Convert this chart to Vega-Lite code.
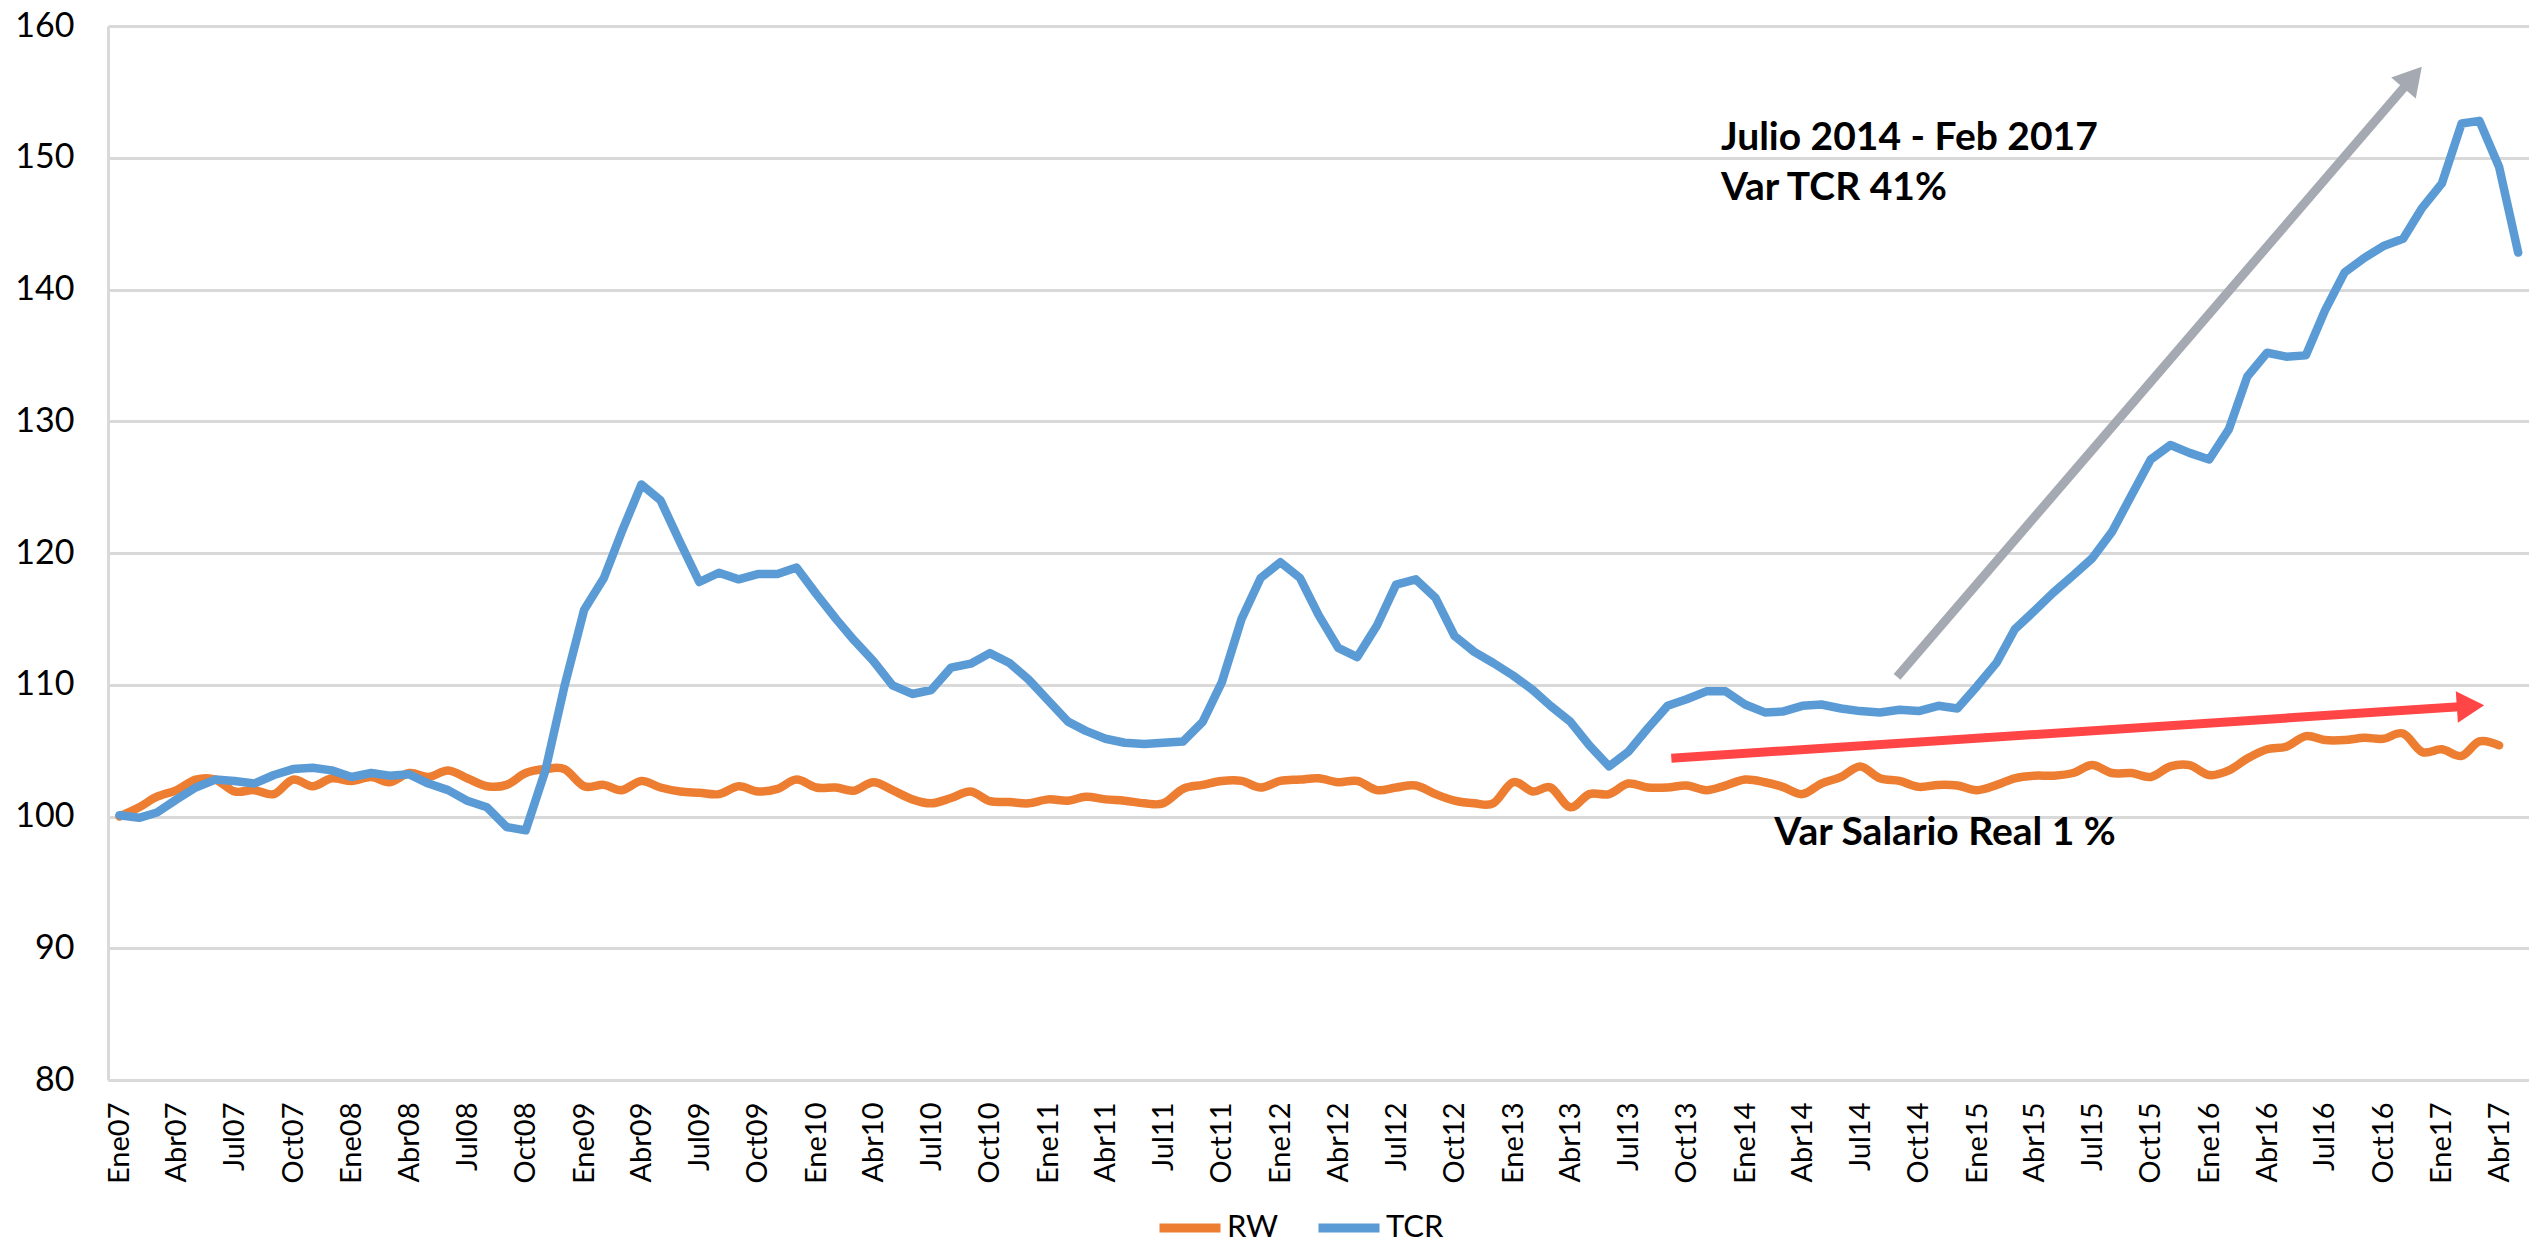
{
  "$schema": "https://vega.github.io/schema/vega-lite/v6.json",
  "width": 2421,
  "height": 1054,
  "autosize": {"type": "none"},
  "padding": {"left": 108, "top": 26, "right": 0, "bottom": 163},
  "background": "#ffffff",
  "config": {"view": {"stroke": null}, "font": "Lato"},
  "datasets": {
    "mensual": [
      {"fecha": "2007-01-01", "RW": 100.0, "TCR": 100.1},
      {"fecha": "2007-02-01", "RW": 100.7, "TCR": 99.9},
      {"fecha": "2007-03-01", "RW": 101.5, "TCR": 100.3},
      {"fecha": "2007-04-01", "RW": 102.0, "TCR": 101.3},
      {"fecha": "2007-05-01", "RW": 102.8, "TCR": 102.2},
      {"fecha": "2007-06-01", "RW": 102.8, "TCR": 102.8},
      {"fecha": "2007-07-01", "RW": 101.9, "TCR": 102.7},
      {"fecha": "2007-08-01", "RW": 102.0, "TCR": 102.5},
      {"fecha": "2007-09-01", "RW": 101.7, "TCR": 103.15},
      {"fecha": "2007-10-01", "RW": 102.8, "TCR": 103.6},
      {"fecha": "2007-11-01", "RW": 102.3, "TCR": 103.7},
      {"fecha": "2007-12-01", "RW": 102.9, "TCR": 103.5},
      {"fecha": "2008-01-01", "RW": 102.7, "TCR": 103.0},
      {"fecha": "2008-02-01", "RW": 103.0, "TCR": 103.3},
      {"fecha": "2008-03-01", "RW": 102.6, "TCR": 103.1},
      {"fecha": "2008-04-01", "RW": 103.3, "TCR": 103.2},
      {"fecha": "2008-05-01", "RW": 103.0, "TCR": 102.5},
      {"fecha": "2008-06-01", "RW": 103.5, "TCR": 102.0},
      {"fecha": "2008-07-01", "RW": 102.9, "TCR": 101.2},
      {"fecha": "2008-08-01", "RW": 102.3, "TCR": 100.7},
      {"fecha": "2008-09-01", "RW": 102.4, "TCR": 99.2},
      {"fecha": "2008-10-01", "RW": 103.3, "TCR": 98.95},
      {"fecha": "2008-11-01", "RW": 103.6, "TCR": 103.5},
      {"fecha": "2008-12-01", "RW": 103.6, "TCR": 109.9},
      {"fecha": "2009-01-01", "RW": 102.3, "TCR": 115.7},
      {"fecha": "2009-02-01", "RW": 102.4, "TCR": 118.1},
      {"fecha": "2009-03-01", "RW": 102.0, "TCR": 121.6},
      {"fecha": "2009-04-01", "RW": 102.7, "TCR": 125.2},
      {"fecha": "2009-05-01", "RW": 102.2, "TCR": 124.0},
      {"fecha": "2009-06-01", "RW": 101.9, "TCR": 120.8},
      {"fecha": "2009-07-01", "RW": 101.8, "TCR": 117.8},
      {"fecha": "2009-08-01", "RW": 101.7, "TCR": 118.5},
      {"fecha": "2009-09-01", "RW": 102.3, "TCR": 118.0},
      {"fecha": "2009-10-01", "RW": 101.9, "TCR": 118.4},
      {"fecha": "2009-11-01", "RW": 102.1, "TCR": 118.4},
      {"fecha": "2009-12-01", "RW": 102.8, "TCR": 118.9},
      {"fecha": "2010-01-01", "RW": 102.2, "TCR": 116.9},
      {"fecha": "2010-02-01", "RW": 102.2, "TCR": 115.0},
      {"fecha": "2010-03-01", "RW": 101.96, "TCR": 113.4},
      {"fecha": "2010-04-01", "RW": 102.6, "TCR": 111.8},
      {"fecha": "2010-05-01", "RW": 102.0, "TCR": 109.95},
      {"fecha": "2010-06-01", "RW": 101.3, "TCR": 109.3},
      {"fecha": "2010-07-01", "RW": 101.0, "TCR": 109.6},
      {"fecha": "2010-08-01", "RW": 101.4, "TCR": 111.3},
      {"fecha": "2010-09-01", "RW": 101.9, "TCR": 111.6},
      {"fecha": "2010-10-01", "RW": 101.16, "TCR": 112.4},
      {"fecha": "2010-11-01", "RW": 101.1, "TCR": 111.65},
      {"fecha": "2010-12-01", "RW": 101.0, "TCR": 110.4},
      {"fecha": "2011-01-01", "RW": 101.3, "TCR": 108.8},
      {"fecha": "2011-02-01", "RW": 101.2, "TCR": 107.2},
      {"fecha": "2011-03-01", "RW": 101.5, "TCR": 106.5},
      {"fecha": "2011-04-01", "RW": 101.3, "TCR": 105.9},
      {"fecha": "2011-05-01", "RW": 101.2, "TCR": 105.6},
      {"fecha": "2011-06-01", "RW": 101.0, "TCR": 105.5},
      {"fecha": "2011-07-01", "RW": 101.0, "TCR": 105.6},
      {"fecha": "2011-08-01", "RW": 102.1, "TCR": 105.7},
      {"fecha": "2011-09-01", "RW": 102.4, "TCR": 107.2},
      {"fecha": "2011-10-01", "RW": 102.7, "TCR": 110.2},
      {"fecha": "2011-11-01", "RW": 102.7, "TCR": 115.0},
      {"fecha": "2011-12-01", "RW": 102.2, "TCR": 118.1},
      {"fecha": "2012-01-01", "RW": 102.7, "TCR": 119.3},
      {"fecha": "2012-02-01", "RW": 102.8, "TCR": 118.1},
      {"fecha": "2012-03-01", "RW": 102.9, "TCR": 115.3},
      {"fecha": "2012-04-01", "RW": 102.6, "TCR": 112.8},
      {"fecha": "2012-05-01", "RW": 102.7, "TCR": 112.1},
      {"fecha": "2012-06-01", "RW": 102.0, "TCR": 114.5},
      {"fecha": "2012-07-01", "RW": 102.2, "TCR": 117.6},
      {"fecha": "2012-08-01", "RW": 102.35, "TCR": 118.0},
      {"fecha": "2012-09-01", "RW": 101.7, "TCR": 116.6},
      {"fecha": "2012-10-01", "RW": 101.2, "TCR": 113.7},
      {"fecha": "2012-11-01", "RW": 101.0, "TCR": 112.5},
      {"fecha": "2012-12-01", "RW": 101.0, "TCR": 111.65},
      {"fecha": "2013-01-01", "RW": 102.6, "TCR": 110.7},
      {"fecha": "2013-02-01", "RW": 101.9, "TCR": 109.6},
      {"fecha": "2013-03-01", "RW": 102.2, "TCR": 108.4},
      {"fecha": "2013-04-01", "RW": 100.7, "TCR": 107.2},
      {"fecha": "2013-05-01", "RW": 101.7, "TCR": 105.4},
      {"fecha": "2013-06-01", "RW": 101.7, "TCR": 103.8},
      {"fecha": "2013-07-01", "RW": 102.5, "TCR": 104.9},
      {"fecha": "2013-08-01", "RW": 102.2, "TCR": 106.7},
      {"fecha": "2013-09-01", "RW": 102.2, "TCR": 108.4},
      {"fecha": "2013-10-01", "RW": 102.35, "TCR": 108.9},
      {"fecha": "2013-11-01", "RW": 102.0, "TCR": 109.5},
      {"fecha": "2013-12-01", "RW": 102.35, "TCR": 109.5},
      {"fecha": "2014-01-01", "RW": 102.8, "TCR": 108.5},
      {"fecha": "2014-02-01", "RW": 102.6, "TCR": 107.9},
      {"fecha": "2014-03-01", "RW": 102.25, "TCR": 107.96},
      {"fecha": "2014-04-01", "RW": 101.7, "TCR": 108.4},
      {"fecha": "2014-05-01", "RW": 102.5, "TCR": 108.5},
      {"fecha": "2014-06-01", "RW": 103.0, "TCR": 108.2},
      {"fecha": "2014-07-01", "RW": 103.8, "TCR": 108.0},
      {"fecha": "2014-08-01", "RW": 102.9, "TCR": 107.9},
      {"fecha": "2014-09-01", "RW": 102.7, "TCR": 108.1},
      {"fecha": "2014-10-01", "RW": 102.25, "TCR": 108.0},
      {"fecha": "2014-11-01", "RW": 102.4, "TCR": 108.4},
      {"fecha": "2014-12-01", "RW": 102.35, "TCR": 108.2},
      {"fecha": "2015-01-01", "RW": 102.0, "TCR": 109.9},
      {"fecha": "2015-02-01", "RW": 102.4, "TCR": 111.7},
      {"fecha": "2015-03-01", "RW": 102.9, "TCR": 114.2},
      {"fecha": "2015-04-01", "RW": 103.1, "TCR": 115.6},
      {"fecha": "2015-05-01", "RW": 103.1, "TCR": 117.0},
      {"fecha": "2015-06-01", "RW": 103.3, "TCR": 118.3},
      {"fecha": "2015-07-01", "RW": 103.9, "TCR": 119.6},
      {"fecha": "2015-08-01", "RW": 103.3, "TCR": 121.6},
      {"fecha": "2015-09-01", "RW": 103.3, "TCR": 124.4},
      {"fecha": "2015-10-01", "RW": 103.0, "TCR": 127.1},
      {"fecha": "2015-11-01", "RW": 103.8, "TCR": 128.2},
      {"fecha": "2015-12-01", "RW": 103.9, "TCR": 127.6},
      {"fecha": "2016-01-01", "RW": 103.15, "TCR": 127.1},
      {"fecha": "2016-02-01", "RW": 103.5, "TCR": 129.4},
      {"fecha": "2016-03-01", "RW": 104.4, "TCR": 133.4},
      {"fecha": "2016-04-01", "RW": 105.1, "TCR": 135.2},
      {"fecha": "2016-05-01", "RW": 105.3, "TCR": 134.9},
      {"fecha": "2016-06-01", "RW": 106.1, "TCR": 135.0},
      {"fecha": "2016-07-01", "RW": 105.8, "TCR": 138.4},
      {"fecha": "2016-08-01", "RW": 105.8, "TCR": 141.3},
      {"fecha": "2016-09-01", "RW": 105.97, "TCR": 142.4},
      {"fecha": "2016-10-01", "RW": 105.9, "TCR": 143.3},
      {"fecha": "2016-11-01", "RW": 106.3, "TCR": 143.85},
      {"fecha": "2016-12-01", "RW": 104.9, "TCR": 146.2},
      {"fecha": "2017-01-01", "RW": 105.1, "TCR": 148.05},
      {"fecha": "2017-02-01", "RW": 104.6, "TCR": 152.6},
      {"fecha": "2017-03-01", "RW": 105.7, "TCR": 152.8},
      {"fecha": "2017-04-01", "RW": 105.4, "TCR": 149.3},
      {"fecha": "2017-05-01", "TCR": 142.8}
    ],
    "flecha_tcr": [{"fecha": "2014-08-28", "valor": 110.6, "fecha_fin": "2016-11-16", "valor_fin": 156.1}],
    "punta_tcr": [{"fecha": "2016-11-16", "valor": 156.1}],
    "flecha_rw": [{"fecha": "2013-09-07", "valor": 104.43, "fecha_fin": "2017-02-15", "valor_fin": 108.38}],
    "punta_rw": [{"fecha": "2017-02-15", "valor": 108.38}],
    "textos": [
      {"fecha": "2013-11-24", "valor": 150.6, "texto": "Julio 2014 - Feb 2017"},
      {"fecha": "2013-11-24", "valor": 146.8, "texto": "Var TCR 41%"},
      {"fecha": "2014-02-16", "valor": 97.85, "texto": "Var Salario Real 1 %"}
    ]
  },
  "encoding": {
    "x": {
      "field": "fecha",
      "type": "temporal",
      "scale": {
        "type": "utc",
        "nice": false,
        "domain": [
          {"year": 2006, "month": 12, "date": 14, "utc": true},
          {"year": 2017, "month": 5, "date": 18, "utc": true}
        ]
      },
      "axis": {
        "title": null,
        "grid": false,
        "ticks": false,
        "domain": true,
        "domainColor": "#D9D9D9",
        "domainWidth": 3,
        "labelAngle": -90,
        "labelFont": "Lato",
        "labelFontSize": 29,
        "labelColor": "#000000",
        "labelPadding": 22,
        "labelOverlap": false,
        "labelBound": false,
        "labelFlush": false,
        "tickCount": {"interval": "month", "step": 3},
        "labelExpr": "['Ene','Feb','Mar','Abr','May','Jun','Jul','Ago','Sep','Oct','Nov','Dic'][utcmonth(datum.value)] + utcFormat(datum.value, '%y')"
      }
    },
    "y": {
      "field": "valor",
      "type": "quantitative",
      "scale": {"domain": [80, 160], "nice": false, "zero": false},
      "axis": {
        "title": null,
        "values": [80, 90, 100, 110, 120, 130, 140, 150, 160],
        "grid": true,
        "gridColor": "#D9D9D9",
        "gridWidth": 3,
        "ticks": false,
        "domain": true,
        "domainColor": "#D9D9D9",
        "domainWidth": 3,
        "labelFont": "Lato",
        "labelFontSize": 34,
        "labelColor": "#000000",
        "labelPadding": 34
      }
    }
  },
  "layer": [
    {
      "data": {"name": "mensual"},
      "transform": [
        {"fold": ["RW", "TCR"], "as": ["serie", "valor"]},
        {"filter": {"field": "serie", "equal": "RW"}}
      ],
      "mark": {"type": "line", "interpolate": "cardinal", "strokeWidth": 8.5, "strokeCap": "round", "strokeJoin": "round"},
      "encoding": {
        "color": {
          "field": "serie",
          "type": "nominal",
          "scale": {"domain": ["RW", "TCR"], "range": ["#ED7D31", "#5B9BD5"]},
          "legend": {
            "orient": "none",
            "legendX": 1047,
            "legendY": 1167,
            "direction": "horizontal",
            "title": null,
            "labelFont": "Lato",
            "labelFontSize": 31,
            "labelColor": "#000000",
            "symbolType": "stroke",
            "symbolSize": 3721,
            "symbolStrokeWidth": 9,
            "columnPadding": 21,
            "labelOffset": 2
          }
        }
      }
    },
    {
      "data": {"name": "mensual"},
      "transform": [
        {"fold": ["RW", "TCR"], "as": ["serie", "valor"]},
        {"filter": {"field": "serie", "equal": "TCR"}}
      ],
      "mark": {"type": "line", "interpolate": "linear", "strokeWidth": 8.5, "strokeCap": "round", "strokeJoin": "round"},
      "encoding": {
        "color": {"field": "serie", "type": "nominal"}
      }
    },
    {
      "data": {"name": "flecha_tcr"},
      "mark": {"type": "rule", "color": "#A5A9B1", "strokeWidth": 9},
      "encoding": {"x2": {"field": "fecha_fin"}, "y2": {"field": "valor_fin"}}
    },
    {
      "data": {"name": "punta_tcr"},
      "mark": {"type": "point", "shape": "triangle-up", "size": 1050, "angle": 40.7, "filled": true, "color": "#A5A9B1", "opacity": 1}
    },
    {
      "data": {"name": "flecha_rw"},
      "mark": {"type": "rule", "color": "#FF4545", "strokeWidth": 9},
      "encoding": {"x2": {"field": "fecha_fin"}, "y2": {"field": "valor_fin"}}
    },
    {
      "data": {"name": "punta_rw"},
      "mark": {"type": "point", "shape": "triangle-up", "size": 1000, "angle": 86.3, "filled": true, "color": "#FF4545", "opacity": 1}
    },
    {
      "data": {"name": "textos"},
      "mark": {"type": "text", "align": "left", "baseline": "alphabetic", "font": "Lato", "fontWeight": "bold", "fontSize": 39, "color": "#000000"},
      "encoding": {"text": {"field": "texto"}}
    }
  ]
}
